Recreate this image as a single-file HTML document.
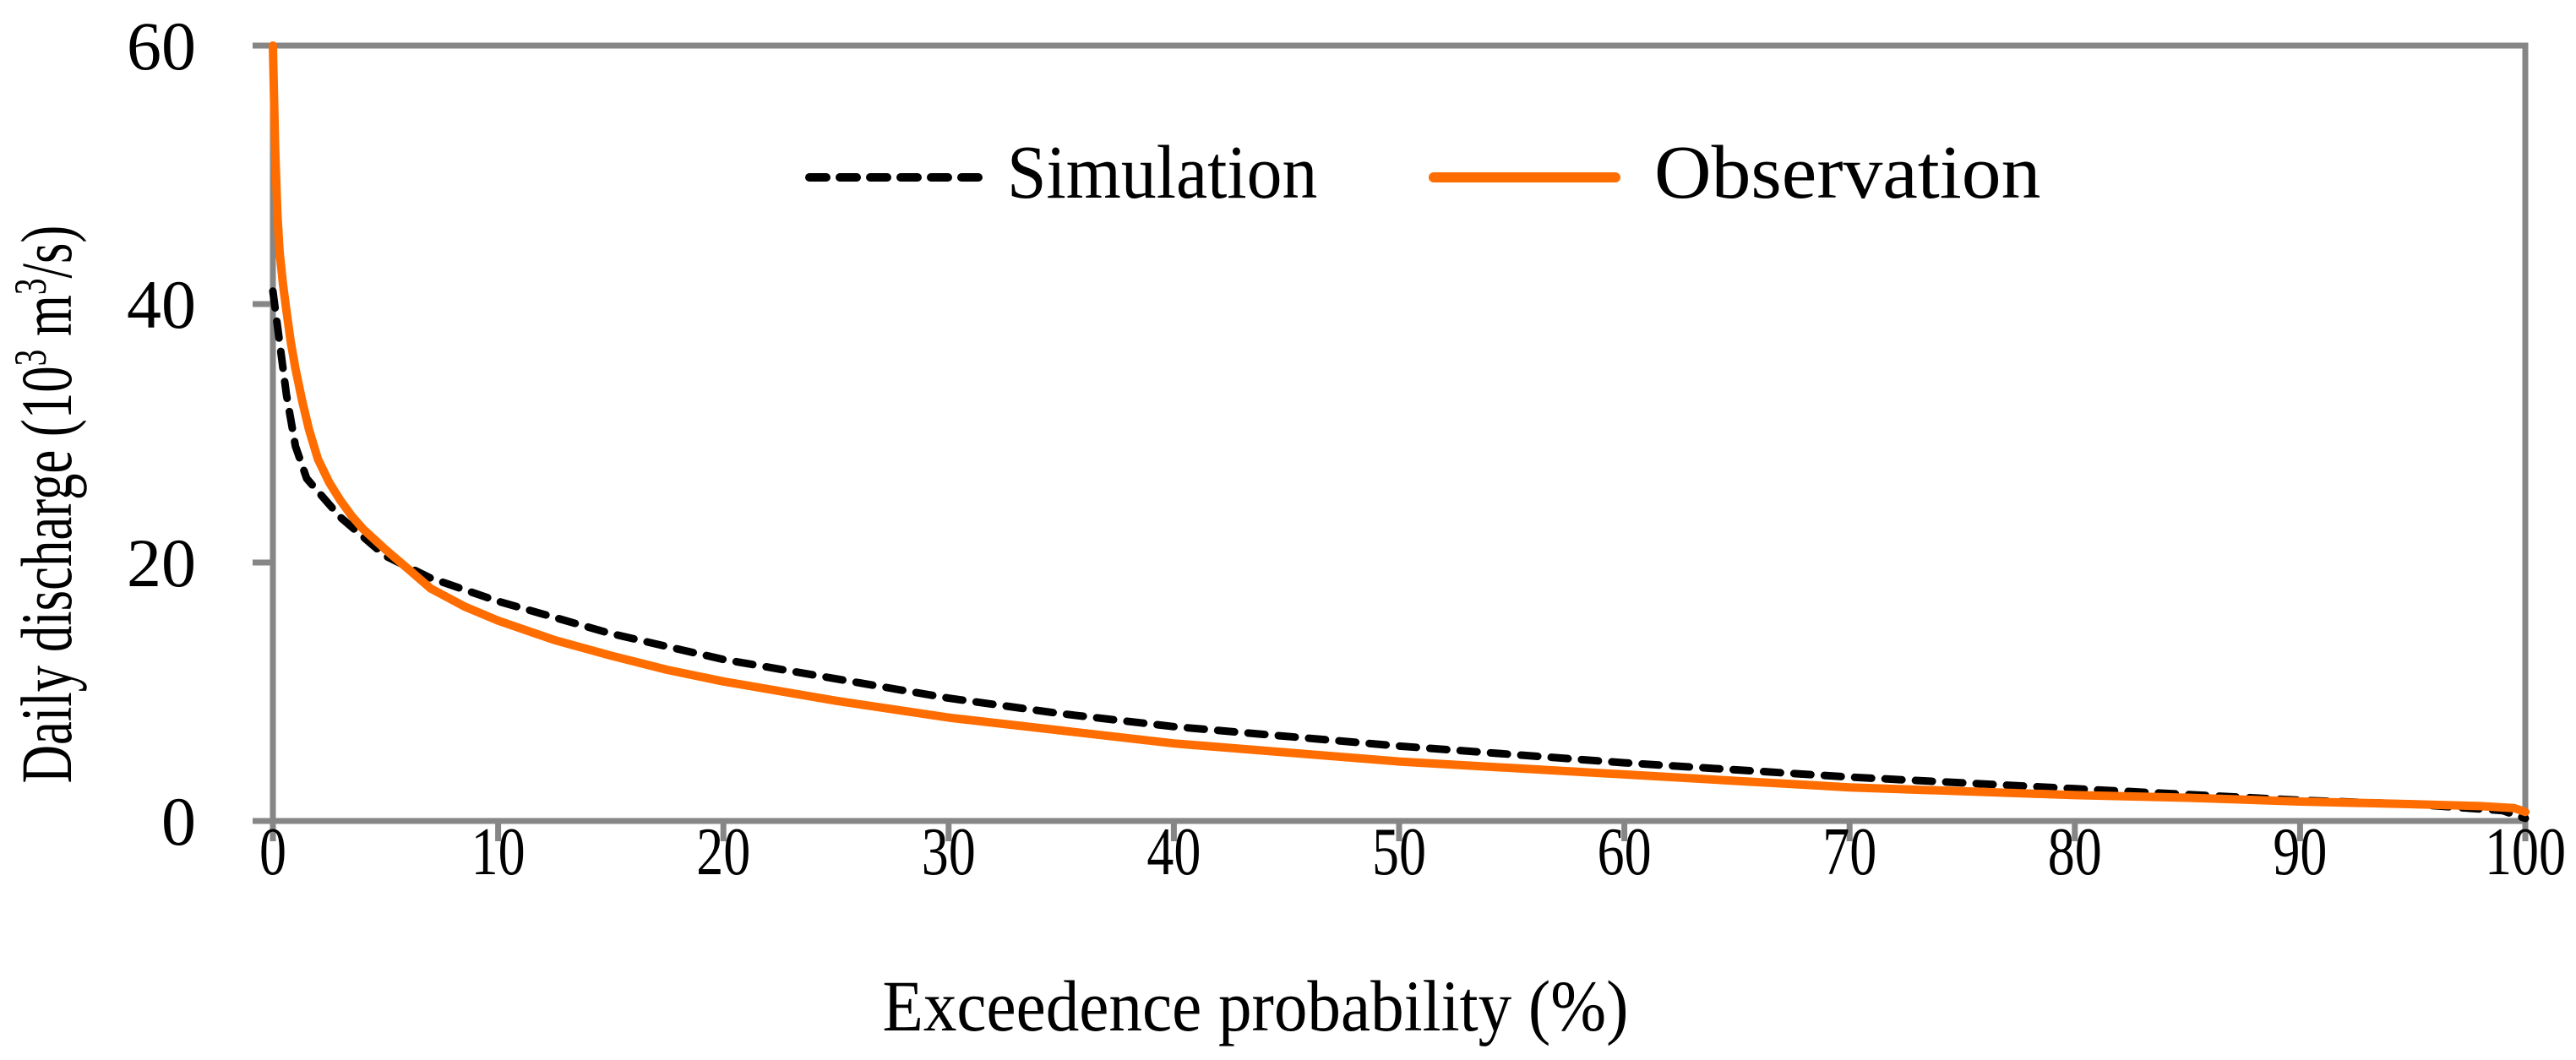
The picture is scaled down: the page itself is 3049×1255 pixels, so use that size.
<!DOCTYPE html>
<html><head><meta charset="utf-8"><style>
body{margin:0;background:#fff}
svg{display:block}
text{font-family:"Liberation Serif",serif;fill:#000}
</style></head><body>
<svg id="chart" width="3049" height="1255" viewBox="0 0 3049 1255" xmlns="http://www.w3.org/2000/svg"></svg>
<script>
const xTicks=[0,10,20,30,40,50,60,70,80,90,100];
const yTicks=[0,20,40,60];
const obsX=[0,0.1,0.2,0.3,0.45,0.6,0.8,1,1.3,1.6,2,2.5,3,3.5,4,5,6,7,8.5,10,12.5,15,17.5,20,25,30,35,40,45,50,55,60,65,70,75,80,85,90,95,98,99.5,100];
const obsY=[60,52,47,44,41.5,39.5,37,35,32.5,30.3,28,26.2,24.8,23.6,22.6,21,19.5,18,16.6,15.5,14,12.8,11.7,10.8,9.3,8,7,6,5.3,4.6,4.1,3.6,3.1,2.6,2.3,2.0,1.8,1.5,1.3,1.15,1.0,0.7];
const simX=[0,0.3,0.6,1,1.5,2,3,4,5,7,10,15,20,25,30,35,40,50,60,70,80,90,95,99,100];
const simY=[41,37,33,29,26.5,25.5,23.5,22,20.5,18.8,17,14.5,12.5,11,9.5,8.3,7.3,5.8,4.5,3.4,2.5,1.6,1.3,0.8,0.2];
const NS="http://www.w3.org/2000/svg";
const svg=document.getElementById('chart');
const L=323,R=2989,T=54,B=972;
const sx=v=>L+(v-0)/(100-0)*(R-L);
const sy=v=>B-(v-0)/(60-0)*(B-T);
function mk(tag,attrs,parent){const e=document.createElementNS(NS,tag);for(const k in attrs)e.setAttribute(k,attrs[k]);(parent||svg).appendChild(e);return e;}
const g='#868686';
let fr=mk('rect',{x:L,y:T,width:R-L,height:B-T,fill:'none',stroke:g,'stroke-width':7});


yTicks.forEach(v=>{
  const t=mk('line',{x1:L-24,x2:L,y1:sy(v),y2:sy(v),stroke:g,'stroke-width':7});
  
  
  const lb=mk('text',{x:232,y:sy(v)+28,'text-anchor':'end','font-size':82});
  lb.textContent=v;
  
  
});
xTicks.forEach(v=>{
  const t=mk('line',{x1:sx(v),x2:sx(v),y1:B,y2:B+24,stroke:g,'stroke-width':7});
  
  
  const lb=mk('text',{x:0,y:0,'text-anchor':'middle','font-size':80,transform:'translate('+sx(v)+',1035) scale(0.8,1)'});
  lb.textContent=v;
  
  
});
function path(xs,ys){return xs.map((x,i)=>(i?'L':'M')+sx(x).toFixed(1)+' '+sy(ys[i]).toFixed(1)).join(' ');}
const sim=mk('path',{d:path(simX,simY),fill:'none',stroke:'#000','stroke-width':9,'stroke-dasharray':'20 16','stroke-linecap':'round','stroke-linejoin':'round'});


const obs=mk('path',{d:path(obsX,obsY),fill:'none',stroke:'#ff6d00','stroke-width':10,'stroke-linecap':'round','stroke-linejoin':'round'});


const l1=mk('line',{x1:958,x2:1172,y1:210,y2:210,stroke:'#000','stroke-width':10,'stroke-dasharray':'20 16','stroke-linecap':'round'});


const t1=mk('text',{x:0,y:0,'font-size':90,transform:'translate(1192,234) scale(0.93,1)'});t1.textContent='Simulation';


const l2=mk('line',{x1:1697,x2:1912,y1:210,y2:210,stroke:'#ff6d00','stroke-width':12,'stroke-linecap':'round'});


const t2=mk('text',{x:0,y:0,'font-size':90,transform:'translate(1958,234) scale(1.04,1)'});t2.textContent='Observation';


const xt=mk('text',{x:0,y:0,'text-anchor':'middle','font-size':86,transform:'translate(1486,1220) scale(0.92,1)'});xt.textContent='Exceedence probability (%)';


const yt=mk('text',{x:0,y:0,'text-anchor':'middle','font-size':86,transform:'translate(84,597) rotate(-90) scale(0.73,1)'});
yt.innerHTML='Daily discharge (10<tspan dy="-30" font-size="54">3</tspan><tspan dy="30"> m</tspan><tspan dy="-30" font-size="54">3</tspan><tspan dy="30">/s)</tspan>';


</script>
</body></html>
